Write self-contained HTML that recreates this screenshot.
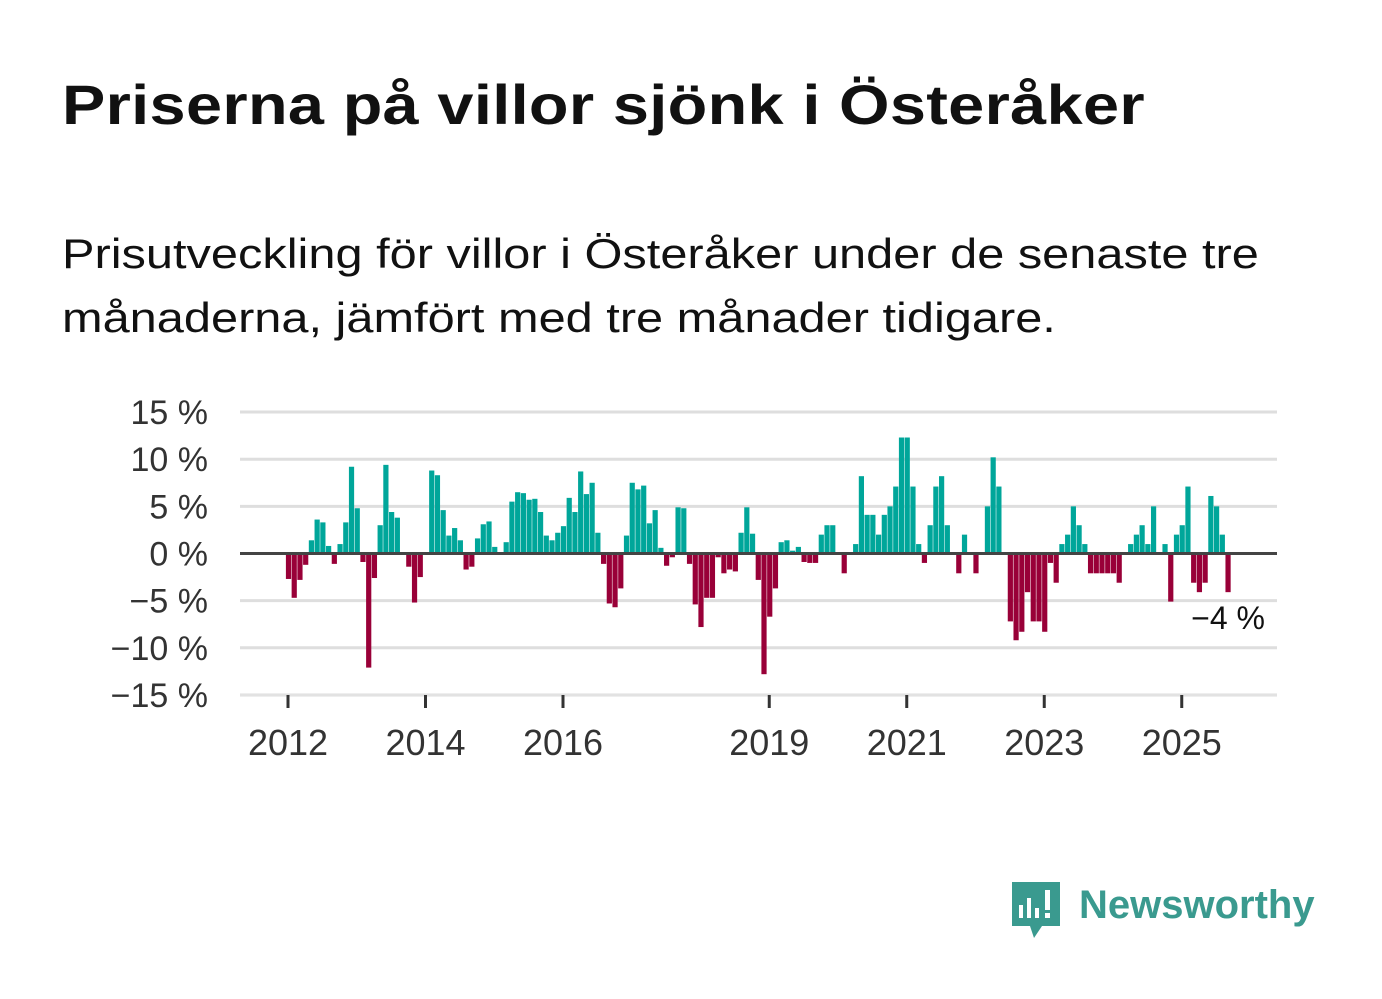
<!DOCTYPE html>
<html><head><meta charset="utf-8">
<style>
body{margin:0;background:#fff;width:1382px;height:999px;overflow:hidden;font-family:"Liberation Sans",sans-serif;}
#title{position:absolute;left:62px;top:72px;font-size:56px;font-weight:bold;color:#111;margin:0;letter-spacing:0.3px;transform:scaleX(1.158);transform-origin:0 0;white-space:nowrap}
#sub{position:absolute;left:62px;top:222px;font-size:42px;line-height:64px;color:#111;margin:0;width:1090px;transform:scaleX(1.16);transform-origin:0 0}
svg{position:absolute;left:0;top:0}
</style></head><body>
<h1 id="title">Priserna på villor sjönk i Österåker</h1>
<p id="sub">Prisutveckling för villor i Österåker under de senaste tre månaderna, jämfört med tre månader tidigare.</p>
<svg id="chart" width="1382" height="999"></svg>
<script>
const startYear = 2012;
const values = [-2.7,-4.7,-2.8,-1.2,1.4,3.6,3.3,0.8,-1.1,1.0,3.3,9.2,4.8,-0.9,-12.1,-2.6,3.0,9.4,4.4,3.8,null,-1.4,-5.2,-2.5,null,8.8,8.3,4.6,1.9,2.7,1.4,-1.7,-1.4,1.6,3.1,3.4,0.7,null,1.2,5.5,6.5,6.4,5.7,5.8,4.4,1.9,1.4,2.2,2.9,5.9,4.4,8.7,6.3,7.5,2.2,-1.1,-5.3,-5.7,-3.7,1.9,7.5,6.8,7.2,3.2,4.6,0.6,-1.3,-0.4,4.9,4.8,-1.1,-5.4,-7.8,-4.7,-4.7,-0.4,-2.1,-1.7,-1.9,2.2,4.9,2.1,-2.8,-12.8,-6.7,-3.7,1.2,1.4,0.3,0.7,-0.9,-1.0,-1.0,2.0,3.0,3.0,null,-2.1,null,1.0,8.2,4.1,4.1,2.0,4.1,5.0,7.1,12.3,12.3,7.1,1.0,-1.0,3.0,7.1,8.2,3.0,null,-2.1,2.0,null,-2.1,null,5.0,10.2,7.1,null,-7.2,-9.2,-8.3,-4.1,-7.2,-7.2,-8.3,-1.0,-3.1,1.0,2.0,5.0,3.0,1.0,-2.1,-2.1,-2.1,-2.1,-2.1,-3.1,null,1.0,2.0,3.0,1.0,5.0,null,1.0,-5.1,2.0,3.0,7.1,-3.1,-4.1,-3.1,6.1,5.0,2.0,-4.1];
const yTicks = [15,10,5,0,-5,-10,-15];
const yLabels = ["15 %","10 %","5 %","0 %","\u22125 %","\u221210 %","\u221215 %"];
const xYears = [2012,2014,2016,2019,2021,2023,2025];
const lastLabel = "\u22124 %";

const svg=document.getElementById('chart');
const NS='http://www.w3.org/2000/svg';
const y0=553.5, ppu=9.43, left=240, right=1277;
const y=v=>y0-v*ppu;
const xm=i=>288.5+i*5.729;
const xy=yr=>288+(yr-startYear)*68.75;
function mk(t,a){const e=document.createElementNS(NS,t);for(const k in a)e.setAttribute(k,a[k]);svg.appendChild(e);return e;}
yTicks.forEach((t,k)=>{
  if(t!==0){const g=mk('line',{x1:left,x2:right,y1:y(t),y2:y(t),stroke:'#dedede','stroke-width':3});
  
  }
  const l=mk('text',{x:208,y:y(t)+12,'text-anchor':'end','font-size':34,fill:'#333','font-family':'Liberation Sans, sans-serif'});
  l.textContent=yLabels[k];
  
  
});
values.forEach((v,i)=>{
  if(v===null)return;
  const r=mk('rect',{x:xm(i)-2.6,width:5.2,y:v>0?y(v):y0,height:Math.abs(v)*ppu,fill:v>0?'#00a69a':'#990038'});
  
  
});
const z=mk('line',{x1:left,x2:right,y1:y0,y2:y0,stroke:'#444','stroke-width':3});


const ax=mk('line',{x1:left,x2:right,y1:695,y2:695,stroke:'#e6e6e6','stroke-width':1});


xYears.forEach(yr=>{
  const t=mk('line',{x1:xy(yr),x2:xy(yr),y1:695,y2:708,stroke:'#333','stroke-width':3});
  
  
  const l=mk('text',{x:xy(yr),y:755,'text-anchor':'middle','font-size':36,fill:'#333','font-family':'Liberation Sans, sans-serif'});
  l.textContent=yr;
  
  
});
const li=values.length-1;
const vl=mk('text',{x:xm(li),y:629,'text-anchor':'middle','font-size':32,fill:'#111',stroke:'#fff','stroke-width':6,'paint-order':'stroke','font-family':'Liberation Sans, sans-serif'});
vl.textContent=lastLabel;


</script>
<svg width="1382" height="999" style="pointer-events:none">
  <path d="M1012 882 h48 v44 h-18 l-8 12 l-4 -12 h-18 z" fill="#3a9a8f"/>
  <rect x="1019" y="905" width="4" height="13" fill="#fff"/>
  <rect x="1027" y="898" width="4" height="20" fill="#fff"/>
  <rect x="1035" y="908" width="4" height="10" fill="#fff"/>
  <rect x="1045" y="890" width="5" height="20" fill="#fff"/>
  <rect x="1045" y="913" width="5" height="5" fill="#fff"/>
  <text x="1079" y="918" font-size="40" font-weight="bold" fill="#3a9a8f" font-family="Liberation Sans, sans-serif">Newsworthy</text>
</svg>
</body></html>
